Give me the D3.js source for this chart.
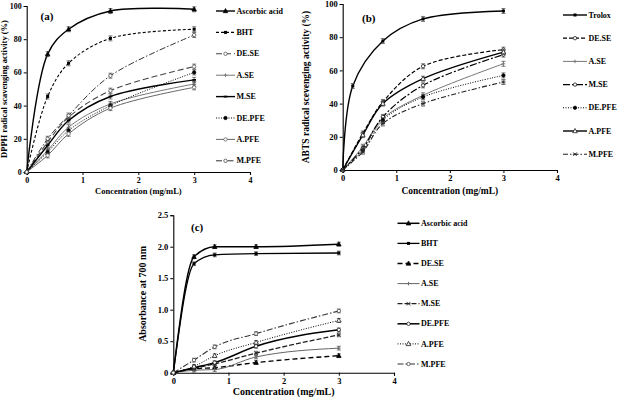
<!DOCTYPE html>
<html>
<head>
<meta charset="utf-8">
<script src="https://cdn.jsdelivr.net/npm/d3@7"></script>
<style>
  body { margin: 0; background: #fff; }
  svg { display: block; }
  text { font-family: 'Liberation Serif', 'Times New Roman', serif; font-weight: bold; fill: #000; }
</style>
</head>
<body>
<svg id="chart" width="621" height="397"></svg>
<script>
// ---- data ----
const conc        = [0, 0.375, 0.75, 1.5, 3];
const troloxConc  = [0, 0.1875, 0.75, 1.5, 3];

const namesA = ["Ascorbic acid", "BHT", "DE.SE", "A.SE", "M.SE", "DE.PFE", "A.PFE", "M.PFE"];
const dpph = [
  [0, 71, 86, 97, 98],
  [0, 45.5, 65.5, 80.5, 86],
  [0, 18, 33, 49, 63.5],
  [0, 13, 27, 41, 53],
  [0, 16, 31, 45.5, 55.5],
  [0, 12, 25, 40, 60],
  [0, 10, 23, 38.5, 51],
  [0, 20, 34, 58, 82.5]
];

const namesB = ["Trolox", "DE.SE", "A.SE", "M.SE", "DE.PFE", "A.PFE", "M.PFE"];
const abts = [
  [0, 50.6, 77.7, 91, 95.8],
  [0, 22, 41, 62.5, 72.5],
  [0, 14, 31, 45, 64],
  [0, 13, 32, 51, 69.5],
  [0, 12, 30, 44, 57],
  [0, 21, 40, 55, 71],
  [0, 11, 28, 40, 53]
];

const namesC = ["Ascorbic acid", "BHT", "DE.SE", "A.SE", "M.SE", "DE.PFE", "A.PFE", "M.PFE"];
const absorbance = [
  [0, 1.84, 2.0, 2.0, 2.04],
  [0, 1.73, 1.87, 1.89, 1.9],
  [0, 0.06, 0.08, 0.16, 0.27],
  [0, 0.04, 0.05, 0.25, 0.39],
  [0, 0.07, 0.14, 0.31, 0.6],
  [0, 0.08, 0.16, 0.42, 0.68],
  [0, 0.1, 0.27, 0.48, 0.83],
  [0, 0.2, 0.41, 0.62, 0.98]
];

const xTicks  = [0, 1, 2, 3, 4];
const pctTicks = [0, 20, 40, 60, 80, 100];
const absTicks = [0, 0.5, 1.0, 1.5, 2.0, 2.5];

// ---- line / marker styles ----
const stylesA = [
  { dash: null,        w: 1.4, color: "#000", sym: "tri",    fill: true  },
  { dash: "3,2",       w: 1.1, color: "#000", sym: "square", fill: true  },
  { dash: "6,3",       w: 1.1, color: "#444", sym: "circle", fill: false },
  { dash: null,        w: 1.0, color: "#777", sym: "cross",  fill: true  },
  { dash: null,        w: 1.4, color: "#000", sym: "dash",   fill: true  },
  { dash: "1,1.5",     w: 1.0, color: "#000", sym: "circle", fill: true  },
  { dash: null,        w: 0.9, color: "#555", sym: "circle", fill: false },
  { dash: "6,2,1.5,2", w: 1.0, color: "#333", sym: "circle", fill: false }
];
const stylesB = [
  { dash: null,        w: 1.4, color: "#000", sym: "square", fill: true  },
  { dash: "4,2",       w: 1.2, color: "#000", sym: "circle", fill: false },
  { dash: null,        w: 1.0, color: "#777", sym: "cross",  fill: true  },
  { dash: "7,2,2,2",   w: 1.2, color: "#000", sym: "circle", fill: false },
  { dash: "1,1.5",     w: 1.0, color: "#000", sym: "circle", fill: true  },
  { dash: null,        w: 1.4, color: "#000", sym: "tri",    fill: false },
  { dash: "5,2,1.5,2", w: 1.1, color: "#222", sym: "x",      fill: true  }
];
const stylesC = [
  { dash: null,        w: 1.5, color: "#000", sym: "tri",    fill: true  },
  { dash: null,        w: 1.3, color: "#000", sym: "square", fill: true  },
  { dash: "5,3",       w: 1.4, color: "#000", sym: "tri",    fill: true  },
  { dash: null,        w: 1.0, color: "#666", sym: "cross",  fill: true  },
  { dash: "5,2",       w: 1.3, color: "#222", sym: "x",      fill: true  },
  { dash: null,        w: 1.5, color: "#000", sym: "circle", fill: false },
  { dash: "1,1.5",     w: 1.0, color: "#000", sym: "tri",    fill: false },
  { dash: "6,2,1.5,2", w: 1.1, color: "#333", sym: "circle", fill: false }
];

const svg = d3.select("#chart");

function drawMarker(g, st, x, y) {
  const m = g.append("g").attr("transform", `translate(${x},${y})`);
  const fill = st.fill ? st.color : "#fff";
  if (st.sym === "tri") {
    m.append("path").attr("d", "M0,-2.5L2.3,1.7L-2.3,1.7Z").attr("fill", fill).attr("stroke", st.color).attr("stroke-width", 0.7);
  } else if (st.sym === "square") {
    m.append("rect").attr("x", -1.5).attr("y", -1.5).attr("width", 3).attr("height", 3).attr("fill", fill);
  } else if (st.sym === "circle") {
    m.append("circle").attr("r", 1.7).attr("fill", fill).attr("stroke", st.color).attr("stroke-width", 0.7);
  } else if (st.sym === "cross") {
    m.append("path").attr("d", "M-1.8,0H1.8M0,-1.8V1.8").attr("stroke", st.color).attr("stroke-width", 0.9);
  } else if (st.sym === "x") {
    m.append("path").attr("d", "M-1.8,-1.8L1.8,1.8M1.8,-1.8L-1.8,1.8M-2.2,0H2.2").attr("stroke", st.color).attr("stroke-width", 0.8);
  } else if (st.sym === "dash") {
    m.append("path").attr("d", "M-1.8,0H1.8").attr("stroke", st.color).attr("stroke-width", 1.8);
  }
}

function drawPanel(p) {
  const x = d3.scaleLinear().domain([0, 4]).range(p.xRange);
  const y = d3.scaleLinear().domain(p.yDomain).range(p.yRange);
  const g = svg.append("g");

  const xAxis = g.append("g")
    .attr("transform", `translate(0,${p.yRange[0]})`)
    .call(d3.axisBottom(x).tickValues(xTicks).tickSize(3).tickPadding(2).tickFormat(d3.format("d")));
  const yAxis = g.append("g")
    .attr("transform", `translate(${p.xRange[0]},0)`)
    .call(d3.axisLeft(y).tickValues(p.yTicks).tickSize(3).tickPadding(2).tickFormat(p.fmt));
  [xAxis, yAxis].forEach(a => {
    a.select(".domain").attr("stroke", "#000").attr("stroke-width", 1.1);
    a.selectAll(".tick line").attr("stroke", "#000");
    a.selectAll(".tick text").style("font-size", p.tickFont + "px")
      .style("font-family", "'Liberation Serif', serif").style("font-weight", "bold");
  });

  const line = d3.line().x(d => x(d[0])).y(d => y(d[1])).curve(p.curve);

  p.values.forEach((vals, i) => {
    const st = p.styles[i];
    const xs = p.xsFor(i);
    const pts = vals.map((v, j) => [xs[j], v]);
    g.append("path")
      .attr("d", line(pts))
      .attr("fill", "none")
      .attr("stroke", st.color)
      .attr("stroke-width", st.w)
      .attr("stroke-dasharray", st.dash);
    pts.slice(1).forEach(d => {
      const cx = x(d[0]), y1 = y(d[1] + p.err), y2 = y(d[1] - p.err);
      g.append("path")
        .attr("d", `M${cx},${y1}V${y2}M${cx - 2},${y1}H${cx + 2}M${cx - 2},${y2}H${cx + 2}`)
        .attr("stroke", "#444").attr("stroke-width", 0.7).attr("fill", "none");
    });
    pts.forEach(d => drawMarker(g, st, x(d[0]), y(d[1])));
  });

  // legend
  p.names.forEach((name, i) => {
    const st = p.styles[i];
    const ly = p.legend.y0 + i * p.legend.step;
    g.append("line")
      .attr("x1", p.legend.x1).attr("x2", p.legend.x2)
      .attr("y1", ly).attr("y2", ly)
      .attr("stroke", st.color).attr("stroke-width", st.w)
      .attr("stroke-dasharray", st.dash);
    drawMarker(g, st, (p.legend.x1 + p.legend.x2) / 2, ly);
    g.append("text")
      .attr("x", p.legend.x2 + 1.5).attr("y", ly)
      .attr("dy", "0.33em")
      .style("font-size", "8px")
      .text(name);
  });

  g.append("text")
    .attr("x", p.label[0]).attr("y", p.label[1])
    .style("font-size", "11px")
    .text(p.labelText);

  g.append("text")
    .attr("x", (p.xRange[0] + p.xRange[1]) / 2).attr("y", p.xTitleY)
    .attr("text-anchor", "middle")
    .style("font-size", p.titleFont + "px")
    .text("Concentration (mg/mL)");

  const cy = (p.yRange[0] + p.yRange[1]) / 2;
  g.append("text")
    .attr("transform", `translate(${p.yTitleX},${cy}) rotate(-90)`)
    .attr("text-anchor", "middle")
    .style("font-size", p.titleFont + "px")
    .text(p.yTitle);
}

drawPanel({
  xRange: [26.7, 250], yRange: [172, 6], yDomain: [0, 100],
  yTicks: pctTicks, fmt: d3.format("d"), tickFont: 8,
  values: dpph, names: namesA, styles: stylesA, xsFor: () => conc,
  err: 1.5, curve: d3.curveCatmullRom.alpha(0.5),
  legend: { x1: 216, x2: 235, y0: 11, step: 21.4 },
  label: [40.5, 20], labelText: "(a)",
  xTitleY: 194, titleFont: 8.5, yTitleX: 7,
  yTitle: "DPPH radical scavenging activity (%)"
});

drawPanel({
  xRange: [342.7, 557], yRange: [170, 4], yDomain: [0, 100],
  yTicks: pctTicks, fmt: d3.format("d"), tickFont: 8.5,
  values: abts, names: namesB, styles: stylesB, xsFor: i => (i === 0 ? troloxConc : conc),
  err: 1.5, curve: d3.curveCatmullRom.alpha(0.5),
  legend: { x1: 563, x2: 587, y0: 15, step: 23.2 },
  label: [362, 22], labelText: "(b)",
  xTitleY: 194, titleFont: 9.5, yTitleX: 308.5,
  yTitle: "ABTS radical scevenging activity (%)"
});

drawPanel({
  xRange: [173.3, 394], yRange: [372.7, 215.2], yDomain: [0, 2.5],
  yTicks: absTicks, fmt: d => (d === 0 ? "0" : d3.format(".1f")(d)), tickFont: 8.5,
  values: absorbance, names: namesC, styles: stylesC, xsFor: () => conc,
  err: 0.03, curve: d3.curveMonotoneX,
  legend: { x1: 397.5, x2: 419.5, y0: 223.3, step: 20.1 },
  label: [191, 231], labelText: "(c)",
  xTitleY: 394.5, titleFont: 10, yTitleX: 145.5,
  yTitle: "Absorbance at 700 nm"
});
</script>
</body>
</html>
